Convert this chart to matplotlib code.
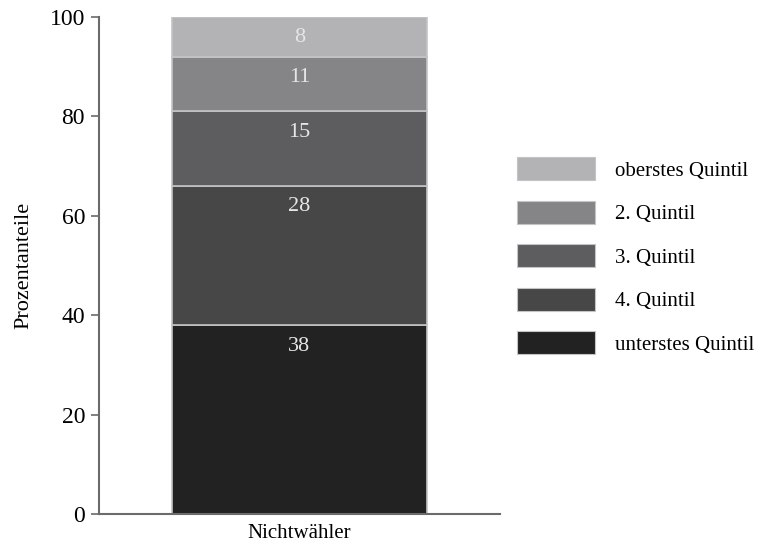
import matplotlib.pyplot as plt
from matplotlib.patches import Patch

# Anteile der Einkommensquintile unter Nichtwählern (von unten nach oben)
group = "Nichtwähler"
quintiles = ["unterstes Quintil", "4. Quintil", "3. Quintil", "2. Quintil", "oberstes Quintil"]
shares = [38, 28, 15, 11, 8]
colors = ["#232223", "#474748", "#5d5d5f", "#858587", "#b3b3b5"]

plt.rcParams["font.family"] = ["Liberation Serif", "DejaVu Serif"]

fig = plt.figure(figsize=(7.58, 5.43), dpi=100)
ax = fig.add_axes([0.1306, 0.0534, 0.529, 0.9153])

bottom = 0
for name, val, col in zip(quintiles, shares, colors):
    ax.bar(0, val, width=0.636, bottom=bottom, color=col,
           edgecolor="#c4c4c6", linewidth=1.2)
    ax.text(0, bottom + val - 4.2, f"{val}", ha="center", va="center",
            color="#e6e6e6", fontsize=16)
    bottom += val

ax.set_xlim(-0.5, 0.5)
ax.set_ylim(0, 100)
ax.set_yticks([0, 20, 40, 60, 80, 100])
ax.set_xticks([0])
ax.set_xticklabels([group], fontsize=15)
ax.tick_params(axis="x", length=0, pad=7)
ax.tick_params(axis="y", length=6, width=1.2, color="#6b6b6b",
               labelsize=17, pad=4)
ax.set_ylabel("Prozentanteile", fontsize=16, labelpad=12)

for side in ["top", "right"]:
    ax.spines[side].set_visible(False)
for side in ["left", "bottom"]:
    ax.spines[side].set_color("#6b6b6b")
    ax.spines[side].set_linewidth(1.5)

handles = [Patch(facecolor=c, edgecolor="#c4c4c6", linewidth=0.8)
           for c in colors[::-1]]
fig.legend(handles, quintiles[::-1], loc="center left",
           bbox_to_anchor=(0.657, 0.5285), frameon=False, fontsize=15,
           handlelength=3.75, handleheight=1.3, handletextpad=0.95,
           labelspacing=0.97)

fig.savefig("out.png", dpi=100)
